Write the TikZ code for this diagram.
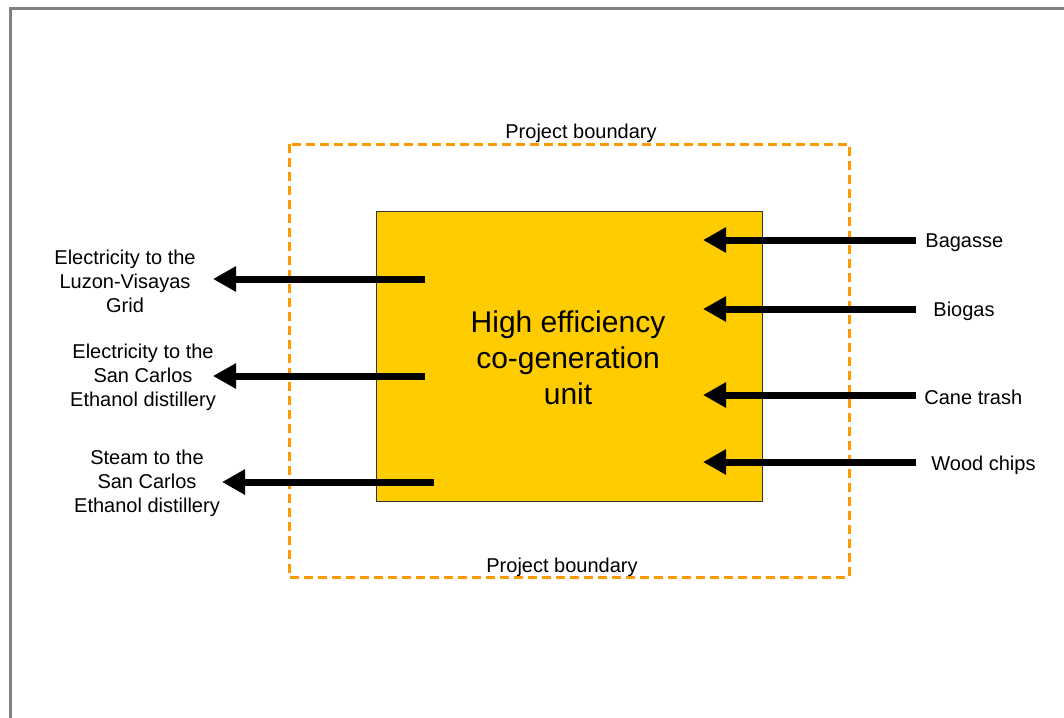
\documentclass[tikz,border=0pt]{standalone}
\usepackage{fontspec}
\setmainfont{Liberation Sans}
\usetikzlibrary{arrows.meta}
\definecolor{unitfill}{RGB}{255,204,0}
\definecolor{boundary}{RGB}{255,153,0}
\definecolor{framegray}{RGB}{128,128,128}
\tikzset{
  flow/.style={line width=3.5pt,-{Triangle[length=11.5pt,width=12pt]}},
  lbl/.style={font=\fontsize{10}{12}\selectfont,align=center,inner sep=0pt},
  bound/.style={draw=boundary,line width=1.5pt,dash pattern=on 4.5pt off 2.5pt},
}
\begin{document}
\begin{tikzpicture}[x=0.5pt,y=-0.5pt]
\useasboundingbox (0,0) rectangle (1064,717);
% outer frame
\draw[framegray,line width=1.5pt] (10,720) -- (10,9) -- (1068,9);
% project boundary
\draw[bound] (289,144) rectangle (849,577);
\node[lbl] (pbtop) at (581,133) {Project boundary};
\node[lbl] (pbbot) at (562,567) {Project boundary};
% co-generation unit
\node[draw=black!80,line width=0.5pt,fill=unitfill,minimum width=193pt,minimum height=145pt,inner sep=0pt] (unit) at (569,356) {};
\node[font=\fontsize{15}{18}\selectfont,align=center,inner sep=0pt] (unittxt) at (568,358) {High efficiency\\co-generation\\unit};
% outputs
\coordinate (o1) at (425,279);
\coordinate (o2) at (425,376);
\coordinate (o3) at (434,482);
\node[lbl] (grid) at (125,281) {Electricity to the\\Luzon-Visayas\\Grid};
\node[lbl] (elec) at (143,377) {Electricity to the\\San Carlos\\Ethanol distillery};
\node[lbl] (steam) at (147,483) {Steam to the\\San Carlos\\Ethanol distillery};
\coordinate (t1) at (213,279);
\coordinate (t2) at (213,376);
\coordinate (t3) at (222,482);
\draw[flow] (o1) -- (t1);
\draw[flow] (o2) -- (t2);
\draw[flow] (o3) -- (t3);
% inputs
\node[lbl,anchor=west] (bag) at (925,243) {Bagasse};
\node[lbl,anchor=west] (bio) at (933,311) {Biogas};
\node[lbl,anchor=west] (cane) at (924,397) {Cane trash};
\node[lbl,anchor=west] (wood) at (931,465) {Wood chips};
\coordinate (s1) at (916,240);
\coordinate (s2) at (916,309);
\coordinate (s3) at (916,395);
\coordinate (s4) at (916,462);
\coordinate (i1) at (703,240);
\coordinate (i2) at (703,309);
\coordinate (i3) at (703,395);
\coordinate (i4) at (703,462);
\draw[flow] (s1) -- (i1);
\draw[flow] (s2) -- (i2);
\draw[flow] (s3) -- (i3);
\draw[flow] (s4) -- (i4);
\end{tikzpicture}
\end{document}
